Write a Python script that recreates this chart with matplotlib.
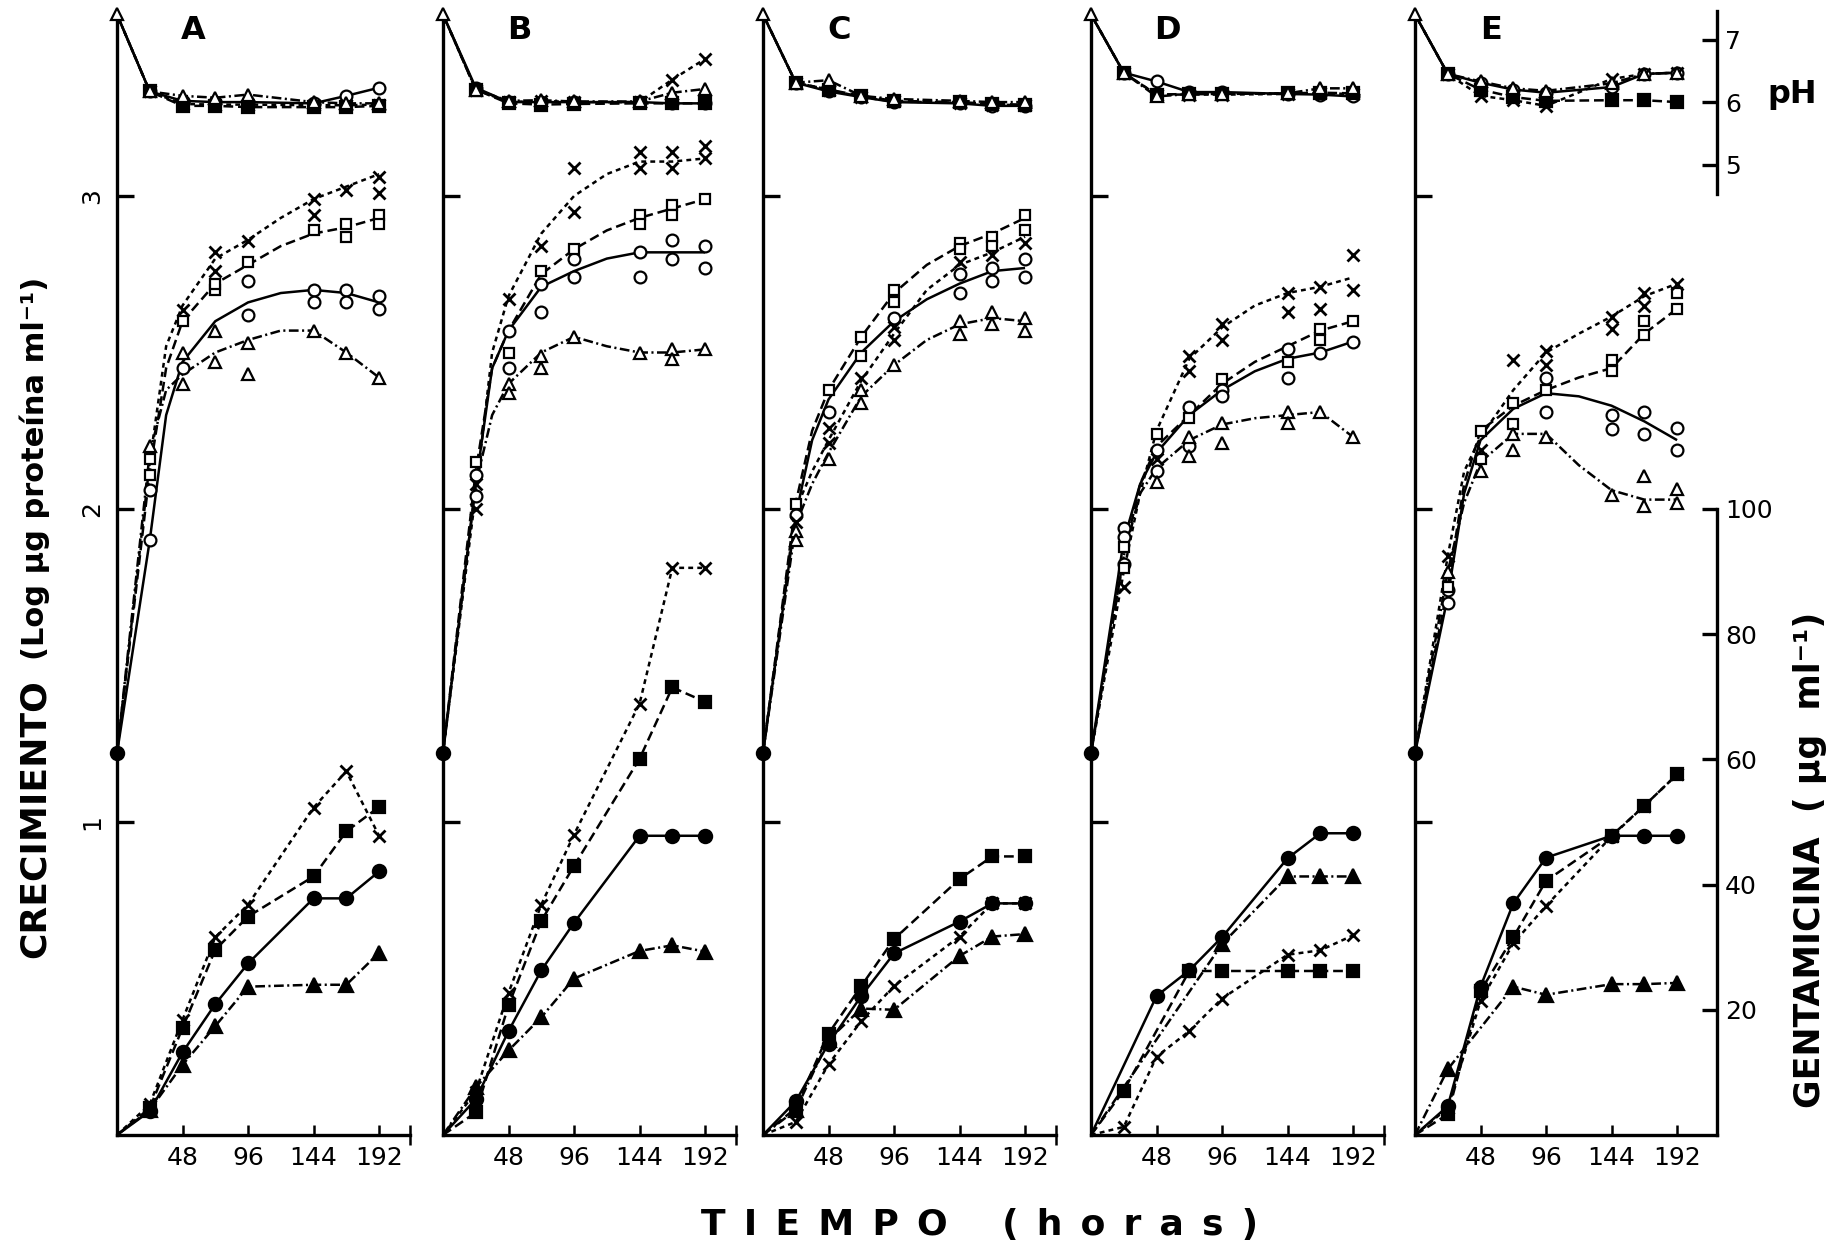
import matplotlib
matplotlib.use("Agg")
import matplotlib.pyplot as plt

plt.rcParams["font.family"] = ["DejaVu Sans"]
plt.rcParams["lines.scale_dashes"] = False

# ---- data ---------------------------------------------------------------
PANELS = ["A", "B", "C", "D", "E"]
TIMES = [24, 48, 72, 96, 144, 168, 192]            # sampling times (h)
CURVE_T = [0, 24, 36, 48, 72, 96, 120, 144, 168, 192]
PH_START = 7.4
GROWTH_START = 1.22
GEN_START = 0.0

# pH (top group)
PH_CIRCLE = {
    "A": [6.17, 6.02, 6.00, 6.00, 5.98, 6.10, 6.23],
    "B": [6.23, 6.00, 6.00, 6.00, 6.00, 5.98, 5.98],
    "C": [6.31, 6.17, 6.08, 6.00, 5.98, 5.94, 5.94],
    "D": [6.47, 6.33, 6.16, 6.16, 6.13, 6.12, 6.09],
    "E": [6.45, 6.31, 6.20, 6.15, 6.24, 6.45, 6.47],
}
PH_SQUARE = {
    "A": [6.17, 5.94, 5.94, 5.92, 5.92, 5.92, 5.94],
    "B": [6.20, 5.98, 5.96, 5.97, 5.98, 5.98, 5.98],
    "C": [6.31, 6.20, 6.10, 6.02, 6.00, 5.97, 5.96],
    "D": [6.47, 6.12, 6.13, 6.13, 6.14, 6.15, 6.14],
    "E": [6.45, 6.20, 6.08, 6.02, 6.03, 6.03, 6.00],
}
PH_CROSS = {
    "A": [6.17, 5.97, 5.96, 5.96, 5.95, 5.95, 5.96],
    "B": [6.20, 6.00, 6.02, 6.00, 6.00, 6.36, 6.69],
    "C": [6.31, 6.20, 6.08, 6.01, 5.99, 5.96, 5.95],
    "D": [6.47, 6.12, 6.12, 6.12, 6.13, 6.14, 6.13],
    "E": [6.45, 6.10, 6.03, 5.94, 6.37, 6.45, 6.47],
}
PH_TRIANGLE = {
    "A": [6.17, 6.10, 6.07, 6.12, 6.00, 5.98, 5.98],
    "B": [6.20, 6.02, 6.03, 6.01, 6.01, 6.15, 6.21],
    "C": [6.31, 6.35, 6.10, 6.05, 6.02, 6.00, 6.00],
    "D": [6.47, 6.09, 6.13, 6.13, 6.14, 6.22, 6.22],
    "E": [6.45, 6.33, 6.22, 6.18, 6.30, 6.45, 6.47],
}

# growth, fitted curves (log ug protein / ml) at CURVE_T
CURVE_CIRCLE = {
    "A": [1.22, 1.90, 2.30, 2.47, 2.60, 2.66, 2.69, 2.70, 2.69, 2.66],
    "B": [1.22, 2.08, 2.45, 2.57, 2.71, 2.76, 2.80, 2.82, 2.82, 2.82],
    "C": [1.22, 1.98, 2.22, 2.35, 2.50, 2.60, 2.67, 2.72, 2.76, 2.77],
    "D": [1.22, 1.90, 2.08, 2.18, 2.30, 2.38, 2.44, 2.48, 2.50, 2.535],
    "E": [1.22, 1.72, 2.05, 2.22, 2.32, 2.37, 2.36, 2.33, 2.28, 2.22],
}
CURVE_SQUARE = {
    "A": [1.22, 2.12, 2.45, 2.60, 2.72, 2.78, 2.84, 2.88, 2.90, 2.93],
    "B": [1.22, 2.12, 2.45, 2.57, 2.75, 2.83, 2.89, 2.93, 2.96, 2.99],
    "C": [1.22, 2.02, 2.25, 2.38, 2.55, 2.69, 2.78, 2.84, 2.88, 2.93],
    "D": [1.22, 1.85, 2.08, 2.20, 2.30, 2.40, 2.47, 2.52, 2.57, 2.60],
    "E": [1.22, 1.75, 2.08, 2.25, 2.33, 2.38, 2.42, 2.45, 2.56, 2.64],
}
CURVE_CROSS = {
    "A": [1.22, 2.15, 2.52, 2.65, 2.80, 2.86, 2.93, 2.99, 3.03, 3.07],
    "B": [1.22, 2.05, 2.50, 2.68, 2.88, 3.00, 3.07, 3.11, 3.11, 3.12],
    "C": [1.22, 2.00, 2.12, 2.22, 2.41, 2.56, 2.70, 2.78, 2.82, 2.87],
    "D": [1.22, 1.80, 2.05, 2.25, 2.48, 2.58, 2.65, 2.69, 2.71, 2.74],
    "E": [1.22, 1.85, 2.12, 2.23, 2.38, 2.50, 2.56, 2.615, 2.68, 2.72],
}
CURVE_TRIANGLE = {
    "A": [1.22, 2.18, 2.38, 2.43, 2.50, 2.54, 2.57, 2.57, 2.50, 2.42],
    "B": [1.22, 2.08, 2.30, 2.40, 2.50, 2.55, 2.52, 2.50, 2.50, 2.51],
    "C": [1.22, 1.95, 2.08, 2.18, 2.36, 2.46, 2.54, 2.59, 2.61, 2.60],
    "D": [1.22, 1.85, 2.05, 2.13, 2.22, 2.27, 2.29, 2.30, 2.31, 2.23],
    "E": [1.22, 1.80, 2.02, 2.15, 2.24, 2.24, 2.14, 2.06, 2.03, 2.03],
}

# growth, replicate measurements at TIMES
PTS_CIRCLE = {
    "A": [[1.90, 2.06], [2.45], [], [2.73, 2.62], [2.70, 2.66], [2.70, 2.66], [2.68, 2.64]],
    "B": [[2.11, 2.04], [2.57, 2.45], [2.72, 2.63], [2.80, 2.74], [2.82, 2.74], [2.86, 2.80], [2.84, 2.77]],
    "C": [[1.98], [2.31], [], [2.61], [2.75, 2.69], [2.77, 2.73], [2.80, 2.74]],
    "D": [[1.94, 1.91, 1.825], [2.19, 2.12], [2.325, 2.20], [2.38, 2.36], [2.51, 2.42], [2.50], [2.535]],
    "E": [[1.74, 1.70], [], [], [2.42, 2.31], [2.30, 2.255], [2.31, 2.24], [2.26, 2.19]],
}
PTS_SQUARE = {
    "A": [[2.11, 2.16], [2.60], [2.70, 2.72], [2.79], [2.89], [2.91, 2.87], [2.94, 2.91]],
    "B": [[2.15], [2.50], [2.76], [2.83], [2.94, 2.91], [2.97, 2.94], [2.99]],
    "C": [[2.015], [2.38], [2.55, 2.49], [2.70, 2.66], [2.85, 2.83], [2.87, 2.84], [2.94, 2.89]],
    "D": [[1.88, 1.81], [2.24], [2.29], [2.415], [2.47], [2.575, 2.54], [2.60]],
    "E": [[1.75], [2.25, 2.16], [2.34, 2.27], [2.38], [2.475, 2.44], [2.60, 2.556], [2.69, 2.64]],
}
PTS_CROSS = {
    "A": [[], [2.635], [2.82, 2.76], [2.855], [2.99, 2.94], [3.02], [3.06, 3.01]],
    "B": [[2.08, 2.00], [2.67], [2.84], [3.09, 2.95], [3.14, 3.09], [3.14, 3.09], [3.16, 3.12]],
    "C": [[1.96], [2.26, 2.21], [2.42], [2.58, 2.54], [2.79], [2.81], [2.85]],
    "D": [[1.75], [2.16], [2.49, 2.44], [2.59, 2.54], [2.69, 2.63], [2.71, 2.64], [2.81, 2.70]],
    "E": [[1.85], [2.19], [2.475], [2.505, 2.46], [2.615, 2.575], [2.69, 2.65], [2.72]],
}
PTS_TRIANGLE = {
    "A": [[2.20], [2.50, 2.40], [2.57, 2.47], [2.53, 2.43], [2.57], [2.50], [2.42]],
    "B": [[], [2.40, 2.37], [2.49, 2.45], [2.55], [2.50], [2.51, 2.48], [2.51]],
    "C": [[1.93, 1.90], [2.16], [2.38, 2.34], [2.46], [2.60, 2.56], [2.63, 2.59], [2.61, 2.57]],
    "D": [[], [2.085], [2.23, 2.17], [2.275, 2.21], [2.31, 2.275], [2.31], [2.23]],
    "E": [[1.80], [2.12], [2.24, 2.19], [2.23], [2.045], [2.107, 2.01], [2.065, 2.02]],
}

# gentamicin (ug/ml), bottom group
GEN_CIRCLE = {
    "A": [3.8, 13.2, 20.9, 27.4, 37.8, 37.8, 42.1],
    "B": [5.7, 16.6, 26.3, 33.9, 47.8, 47.8, 47.8],
    "C": [5.4, 14.6, 22.2, 29.0, 34.1, 37.0, 37.0],
    "D": [None, 22.2, 26.3, 31.6, 44.2, 48.2, 48.2],
    "E": [4.6, 23.7, 37.0, 44.3, 47.8, 47.8, 47.8],
}
GEN_SQUARE = {
    "A": [4.3, 17.1, 29.6, 34.9, 41.3, 48.5, 52.4],
    "B": [3.6, 20.7, 34.2, 43.0, 60.1, 71.5, 69.2],
    "C": [4.3, 16.2, 23.8, 31.3, 40.9, 44.5, 44.5],
    "D": [7.1, None, 26.2, 26.2, 26.2, 26.2, 26.2],
    "E": [3.3, 23.0, 31.6, 40.6, 47.8, 52.6, 57.6],
}
GEN_CROSS = {
    "A": [4.9, 18.4, 31.6, 36.8, 52.3, 58.1, 47.8],
    "B": [6.9, 22.7, 36.8, 48.0, 68.9, 90.6, 90.6],
    "C": [2.1, 11.3, 18.2, 23.8, 31.7, 37.0, 37.0],
    "D": [1.3, 12.5, 16.6, 21.8, 28.8, 29.5, 31.9],
    "E": [4.3, 21.4, 30.6, 36.6, 47.7, 52.6, 57.6],
}
GEN_TRIANGLE = {
    "A": [4.0, 11.2, 17.4, 23.7, 24.0, 24.0, 29.1],
    "B": [7.6, 13.5, 18.8, 25.0, 29.4, 30.3, 29.3],
    "C": [4.0, 15.2, 20.2, 20.0, 28.6, 31.7, 32.1],
    "D": [None, None, None, 30.5, 41.3, 41.3, 41.3],
    "E": [10.5, None, 23.7, 22.4, 24.1, 24.1, 24.3],
}

GROWTH_TICKS = [1, 2, 3]
TIME_TICKS = [48, 96, 144, 192]
PH_TICKS = [5, 6, 7]
GEN_TICKS = [20, 40, 60, 80, 100]

# ---- layout / style -------------------------------------------------------
W, H = 1838, 1246
PX_PER_HOUR = 1.365
LEFT_PX = [117, 443, 763, 1091, 1415]
BASE_PX = 1135
LOG_PX = 313
YMAX = 3.6
PH6_LEVEL, PH_UNIT = 3.30, 0.20        # where pH 6 sits on the growth scale
GEN_PER_LOG = 50.0                     # 100 ug/ml sits at log 2

MARKER = {"circle": "o", "square": "s", "cross": "x", "triangle": "^"}
MSIZE = {"circle": 8.5, "square": 7.5, "cross": 8, "triangle": 8.5}
DASHES = {"circle": None, "square": (7, 3.5), "cross": (3.5, 3.0),
          "triangle": (7, 2.5, 1.5, 2.5)}
LW = 1.8
SPINE_LW = 2.4
SP = "\u2002"   # en space for the letter-spaced axis title


def clean(xs, ys):
    pairs = [(x, y) for x, y in zip(xs, ys) if y is not None]
    return [q[0] for q in pairs], [q[1] for q in pairs]


def draw_line(ax, xs, ys, kind):
    xs, ys = clean(xs, ys)
    ln, = ax.plot(xs, ys, color="black", lw=LW, zorder=2, clip_on=False,
                  solid_capstyle="butt")
    if DASHES[kind]:
        ln.set_dashes(DASHES[kind])


def draw_marks(ax, xs, ys, kind, filled):
    xs, ys = clean(xs, ys)
    ms = MSIZE[kind] + (1.0 if filled else 0.0)
    ax.plot(xs, ys, ls="none", marker=MARKER[kind], ms=ms, mec="black",
            mfc="black" if filled else "white",
            mew=2.0 if kind == "cross" else 1.6, zorder=4, clip_on=False)


fig = plt.figure(figsize=(W / 100, H / 100), dpi=100)

ph_sets = [("circle", PH_CIRCLE), ("square", PH_SQUARE),
           ("cross", PH_CROSS), ("triangle", PH_TRIANGLE)]
curve_sets = [("circle", CURVE_CIRCLE, PTS_CIRCLE), ("square", CURVE_SQUARE, PTS_SQUARE),
              ("cross", CURVE_CROSS, PTS_CROSS), ("triangle", CURVE_TRIANGLE, PTS_TRIANGLE)]
gen_sets = [("circle", GEN_CIRCLE), ("square", GEN_SQUARE),
            ("cross", GEN_CROSS), ("triangle", GEN_TRIANGLE)]

for i, p in enumerate(PANELS):
    last = p == "E"
    xmax = 221 if last else 216
    ax = fig.add_axes([LEFT_PX[i] / W, (H - BASE_PX) / H,
                       xmax * PX_PER_HOUR / W, YMAX * LOG_PX / H])
    ax.set_xlim(0, xmax)
    ax.set_ylim(0, YMAX)
    ax.patch.set_alpha(0)

    ax_ph = ax.twinx()
    ax_ph.set_ylim(6 + (0 - PH6_LEVEL) / PH_UNIT, 6 + (YMAX - PH6_LEVEL) / PH_UNIT)
    ax_gen = ax.twinx()
    ax_gen.set_ylim(0, YMAX * GEN_PER_LOG)

    for a in (ax, ax_ph, ax_gen):
        for side in ("top", "right", "left", "bottom"):
            a.spines[side].set_visible(False)
    ax.spines["left"].set_visible(True)
    ax.spines["bottom"].set_visible(True)
    ax.spines["left"].set_linewidth(SPINE_LW)
    ax.spines["bottom"].set_linewidth(SPINE_LW)
    ax.spines["left"].set_bounds(0, PH6_LEVEL + (PH_START - 6) * PH_UNIT)
    ax.spines["bottom"].set_bounds(0, xmax if last else 215)

    ax.set_yticks(GROWTH_TICKS)
    ax.set_xticks(TIME_TICKS)
    ax.set_xticklabels([str(t) for t in TIME_TICKS])
    ax.tick_params(axis="y", direction="in", length=12, width=SPINE_LW, pad=9,
                   labelsize=18, labelrotation=90)
    ax.tick_params(axis="x", direction="in", length=7, width=1.8, pad=8,
                   labelsize=18)
    if i == 0:
        ax.set_yticklabels([str(v) for v in GROWTH_TICKS], va="center")
    else:
        ax.set_yticklabels([])
    if not last:
        ax.set_xticks([215], minor=True)
        ax.tick_params(axis="x", which="minor", direction="inout", length=14,
                       width=1.8)

    # pH
    for kind, data in ph_sets:
        draw_line(ax_ph, [0] + TIMES, [PH_START] + data[p], kind)
    for kind, data in ph_sets:
        draw_marks(ax_ph, TIMES, data[p], kind, filled=(kind == "square"))
    draw_marks(ax_ph, [0], [PH_START], "triangle", filled=False)

    # growth
    for kind, curve, pts in curve_sets:
        draw_line(ax, CURVE_T, curve[p], kind)
    for kind, curve, pts in curve_sets:
        xs, ys = [], []
        for t, vals in zip(TIMES, pts[p]):
            xs += [t] * len(vals)
            ys += vals
        draw_marks(ax, xs, ys, kind, filled=False)
    draw_marks(ax, [0], [GROWTH_START], "circle", filled=True)

    # gentamicin
    for kind, data in gen_sets:
        draw_line(ax_gen, [0] + TIMES, [GEN_START] + data[p], kind)
    for kind, data in gen_sets:
        draw_marks(ax_gen, TIMES, data[p], kind, filled=(kind != "cross"))

    ax.text(56, 3.53, p, fontsize=23, fontweight="bold", ha="center", va="center")

    if last:
        for a, lo, hi, ticks in ((ax_ph, 4.53, 7.45, PH_TICKS),
                                 (ax_gen, 0, 100, GEN_TICKS)):
            a.spines["right"].set_visible(True)
            a.spines["right"].set_linewidth(SPINE_LW)
            a.spines["right"].set_bounds(lo, hi)
            a.set_yticks(ticks)
            a.set_yticklabels([str(t) for t in ticks])
            a.tick_params(axis="y", direction="in", length=11, width=SPINE_LW,
                          pad=6, labelsize=18)
    else:
        ax_ph.set_yticks([])
        ax_gen.set_yticks([])

fig.text(0.019, 0.343, "CRECIMIENTO", rotation=90, fontsize=26,
         fontweight="bold", ha="center", va="center")
fig.text(0.019, 0.624, "(Log µg proteína ml⁻¹)", rotation=90, fontsize=22,
         fontweight="bold", ha="center", va="center")
fig.text(0.533, 0.017,
         SP.join("TIEMPO") + SP * 3 + "(" + SP + SP.join("horas") + SP + ")",
         fontsize=26, fontweight="bold", ha="center", va="center")
fig.text(0.975, 0.924, "pH", fontsize=23, fontweight="bold", ha="center",
         va="center")
fig.text(0.985, 0.31, "GENTAMICINA  ( µg  ml⁻¹)", rotation=90, fontsize=25,
         fontweight="bold", ha="center", va="center")

fig.savefig("out.png", dpi=100)
